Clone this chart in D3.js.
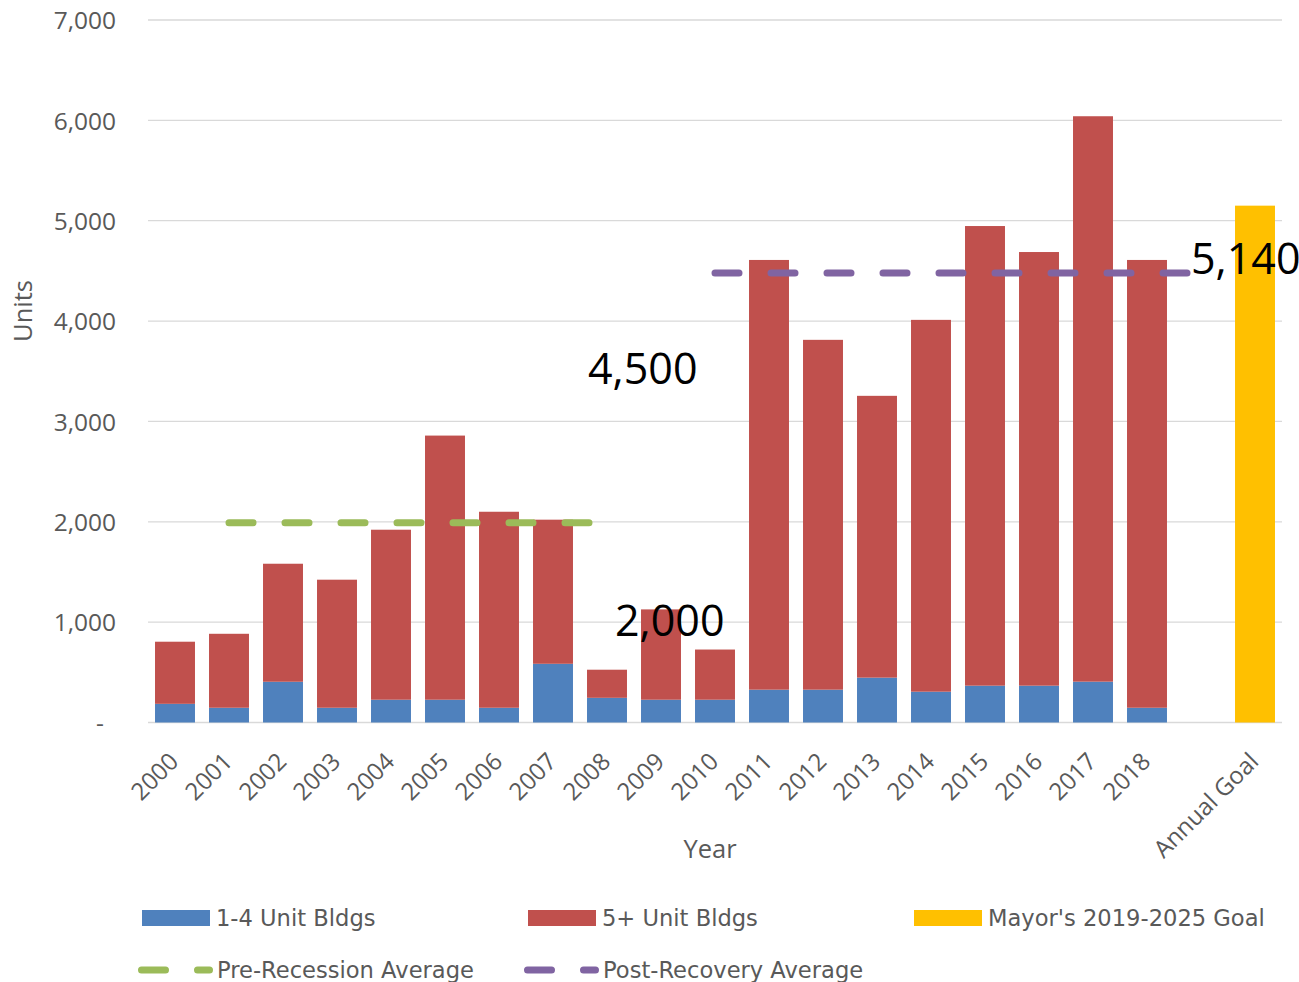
<!DOCTYPE html>
<html><head><meta charset="utf-8">
<script src="https://cdn.jsdelivr.net/npm/d3@7"></script>
<style>
html,body{margin:0;padding:0;background:#fff;}
svg{display:block;font-family:"Open Sans",Lato,sans-serif;}
</style></head>
<body>
<svg id="chart" width="1299" height="982"></svg>
<script>
const categories = ["2000","2001","2002","2003","2004","2005","2006","2007","2008","2009","2010","2011","2012","2013","2014","2015","2016","2017","2018","","Annual Goal"];
const years = ["2000","2001","2002","2003","2004","2005","2006","2007","2008","2009","2010","2011","2012","2013","2014","2015","2016","2017","2018"];
const units1to4 = [186,147,406,147,227,227,147,585,246,227,227,327,327,447,307,367,367,407,147];
const units5plus = [619,737,1176,1276,1694,2632,1953,1436,280,900,500,4282,3486,2808,3705,4580,4321,5634,4462];
const goalCategory = "Annual Goal";
const goalValue = 5150;
const preRecessionCats = ["2001","2002","2003","2004","2005","2006","2007","2008"];
const preRecessionValue = 1990;
const postRecoveryCats = ["2010","2011","2012","2013","2014","2015","2016","2017","2018",""];
const postRecoveryValue = 4480;
const yTicks = [0,1000,2000,3000,4000,5000,6000,7000];
const annotations = [
  {text:"4,500", cat:"2008", value:3373, dx:-19},
  {text:"2,000", cat:"2009", value:862, dx:-46},
  {text:"5,140", cat:"", value:4469, dx:-10}
];
const legendItems = [
  {label:"1-4 Unit Bldgs", color:"#4F81BD", type:"rect"},
  {label:"5+ Unit Bldgs", color:"#C0504D", type:"rect"},
  {label:"Mayor's 2019-2025 Goal", color:"#FFC000", type:"rect"},
  {label:"Pre-Recession Average", color:"#9BBB59", type:"line"},
  {label:"Post-Recovery Average", color:"#8064A2", type:"line"}
];

const svg = d3.select("#chart");
const mLeft = 148, mRight = 1282, mTop = 20, mBottom = 722.5;
const textColor = "#595959";

const x = d3.scaleBand().domain(categories).range([mLeft, mRight]).paddingInner(0.26).paddingOuter(0.13);
const y = d3.scaleLinear().domain([0,7000]).range([mBottom, mTop]);

// gridlines
svg.append("g").selectAll("line").data(yTicks).join("line")
  .attr("x1", mLeft).attr("x2", mRight)
  .attr("y1", d=>y(d)).attr("y2", d=>y(d))
  .attr("stroke", "#D9D9D9").attr("stroke-width", 1.3);

// y axis labels
const yAxis = d3.axisLeft(y).tickValues(yTicks).tickSize(0).tickPadding(0)
  .tickFormat(d => d === 0 ? "-" : d3.format(",")(d));
const gy = svg.append("g").attr("transform", `translate(${mLeft-32},0)`).call(yAxis);
gy.select(".domain").remove();
gy.selectAll("text").attr("font-size", 24.5).attr("fill", textColor)
  .attr("font-family", "'Open Sans',sans-serif").attr("dy", "0.36em")
  .attr("dx", d => d === 0 ? -12 : 0);

// stacked bars
const rows = years.map((yr,i)=>({cat:yr, a:units1to4[i], b:units5plus[i]}));
const stack = d3.stack().keys(["a","b"])(rows);
const colors = {a:"#4F81BD", b:"#C0504D"};
svg.append("g").selectAll("g").data(stack).join("g")
  .attr("fill", s => colors[s.key])
  .selectAll("rect").data(s => s).join("rect")
  .attr("x", d => x(d.data.cat)).attr("width", x.bandwidth())
  .attr("y", d => y(d[1])).attr("height", d => y(d[0]) - y(d[1]));

// goal bar
svg.append("rect").attr("x", x(goalCategory)).attr("width", x.bandwidth())
  .attr("y", y(goalValue)).attr("height", y(0)-y(goalValue)).attr("fill", "#FFC000");

// average lines
const line = d3.line().x(d => x(d.cat) + x.bandwidth()/2).y(d => y(d.v));
svg.append("path").datum(preRecessionCats.map(c=>({cat:c, v:preRecessionValue})))
  .attr("d", line).attr("fill","none").attr("stroke","#9BBB59").attr("stroke-width",7)
  .attr("stroke-linecap","round").attr("stroke-dasharray","24,32");
svg.append("path").datum(postRecoveryCats.map(c=>({cat:c, v:postRecoveryValue})))
  .attr("d", line).attr("fill","none").attr("stroke","#8064A2").attr("stroke-width",7)
  .attr("stroke-linecap","round").attr("stroke-dasharray","24,32");

// annotations
svg.append("g").selectAll("text").data(annotations).join("text")
  .attr("x", d => x(d.cat) + x.bandwidth()/2 + d.dx)
  .attr("y", d => y(d.value))
  .attr("font-size", 43).attr("fill", "#000").text(d => d.text);

// x axis labels
const xLabels = svg.append("g");
categories.forEach(c => {
  if (c === "") return;
  xLabels.append("text")
    .attr("transform", `translate(${x(c)+x.bandwidth()/2+5},763) rotate(-45)`)
    .attr("text-anchor","end").attr("font-size",24).attr("fill",textColor).text(c);
});

// axis titles
svg.append("text").attr("x", 710).attr("y", 858).attr("text-anchor","middle")
  .attr("font-size",25.5).attr("fill",textColor).text("Year");
svg.append("text").attr("transform","translate(32,311) rotate(-90)").attr("text-anchor","middle")
  .attr("font-size",25.5).attr("fill",textColor).text("Units");

// legend
const legendPos = [[142,918],[528,918],[914,918],[142,970],[528,970]];
const lg = svg.append("g");
legendItems.forEach((it,i) => {
  const [lx,ly] = legendPos[i];
  const g = lg.append("g").attr("transform",`translate(${lx},${ly})`);
  if (it.type === "rect") {
    g.append("rect").attr("x",0).attr("y",-8).attr("width",68).attr("height",16).attr("fill",it.color);
  } else {
    g.append("line").attr("x1",-0.5).attr("x2",67.5).attr("y1",0).attr("y2",0)
      .attr("stroke",it.color).attr("stroke-width",7).attr("stroke-linecap","round")
      .attr("stroke-dasharray","24,32");
  }
  g.append("text").attr("x",it.type === "rect" ? 74 : 75).attr("y",0).attr("dy","0.36em")
    .attr("font-family","'DejaVu Sans',sans-serif")
    .attr("font-size",22.6).attr("fill",textColor).text(it.label);
});
</script>
</body></html>
